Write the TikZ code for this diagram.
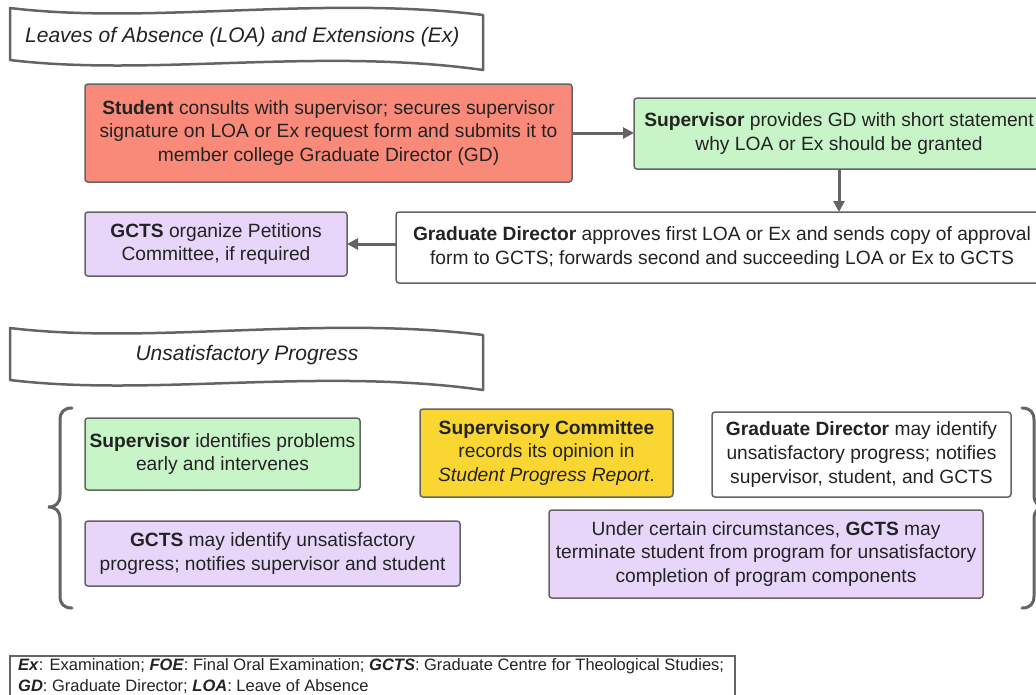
\documentclass[tikz,border=0pt]{standalone}
\usepackage{fontspec}
\setmainfont{Liberation Sans}
\usetikzlibrary{arrows.meta}
\definecolor{cred}{RGB}{249,138,122}
\definecolor{cgreen}{RGB}{200,245,200}
\definecolor{cpurple}{RGB}{232,214,250}
\definecolor{cyellow}{RGB}{250,214,50}
\definecolor{cborder}{RGB}{100,100,100}
\definecolor{carrow}{RGB}{100,100,100}
\definecolor{ctext}{RGB}{35,35,35}
\begin{document}
\begin{tikzpicture}[x=1pt,y=-1pt,
  box/.style={draw=cborder, line width=1.5pt, rounded corners=3pt, inner sep=0pt, outer sep=0pt,
    align=center, anchor=north west, text=ctext, font=\fontsize{19.2}{23.6}\selectfont},
  arr/.style={draw=carrow, line width=3pt, -{Triangle[length=11pt,width=11pt]}},
  banner/.style={draw=cborder, line width=2.5pt, fill=white, line join=round},
  bracestyle/.style={draw=cborder, line width=3pt, line cap=round},
  bannertext/.style={text=ctext, font=\fontsize{21}{25}\selectfont\itshape, inner sep=0pt}
]
\useasboundingbox (0,0) rectangle (1036,694);

% Banner 1
\draw[banner] (10,8) .. controls (150,25) and (320,-5) .. (483,15) -- (483,70)
   .. controls (320,47) and (150,77) .. (10,60) -- cycle;
\node[bannertext, anchor=west] (b1) at (25,37) {Leaves of Absence (LOA) and Extensions (Ex)};

% Top section boxes
\node[box, fill=cred, minimum width=487pt, minimum height=98pt] (stu) at (85,84)
  {\textbf{Student} consults with supervisor; secures supervisor\\signature on LOA or Ex request form and submits it to\\member college Graduate Director (GD)};
\node[box, fill=cgreen, minimum width=410pt, minimum height=71pt] (sup) at (634,98)
  {\textbf{Supervisor} provides GD with short statement\\why LOA or Ex should be granted};
\node[box, fill=white, minimum width=652pt, minimum height=71pt] (gd) at (396,212)
  {\textbf{Graduate Director} approves first LOA or Ex and sends copy of approval\\form to GCTS; forwards second and succeeding LOA or Ex to GCTS};
\node[box, fill=cpurple, minimum width=262pt, minimum height=64pt] (gcts) at (85,212)
  {\textbf{GCTS} organize Petitions\\Committee, if required};

\draw[arr] (stu.east) -- (stu.east -| sup.west);
\draw[arr] (sup.south) -- (sup.south |- gd.north);
\draw[arr] (gd.west |- gcts.east) -- (gcts.east);

% Banner 2
\draw[banner] (10,328) .. controls (150,345) and (320,315) .. (483,335) -- (483,390)
   .. controls (320,367) and (150,397) .. (10,380) -- cycle;
\node[bannertext] (b2) at (247,355) {Unsatisfactory Progress};

% Braces
\draw[bracestyle] (72,408) .. controls (64,408) and (60,412) .. (60,420) -- (60,495)
   .. controls (60,503) and (56,507) .. (48,507) .. controls (56,507) and (60,511) .. (60,519)
   -- (60,596) .. controls (60,604) and (64,608) .. (72,608);
\draw[bracestyle] (1022,408) .. controls (1030,408) and (1034,412) .. (1034,420) -- (1034,495)
   .. controls (1034,503) and (1038,507) .. (1046,507) .. controls (1038,507) and (1034,511) .. (1034,519)
   -- (1034,596) .. controls (1034,604) and (1030,608) .. (1022,608);

% Bottom section boxes
\node[box, fill=cgreen, minimum width=275pt, minimum height=72pt] (supid) at (85,418)
  {\textbf{Supervisor} identifies problems\\early and intervenes};
\node[box, fill=cyellow, minimum width=253pt, minimum height=88pt] (supcom) at (420,409)
  {\textbf{Supervisory Committee}\\records its opinion in\\\textit{Student Progress Report}.};
\node[box, fill=white, minimum width=299pt, minimum height=85pt] (gdid) at (712,412)
  {\textbf{Graduate Director} may identify\\unsatisfactory progress; notifies\\supervisor, student, and GCTS};
\node[box, fill=cpurple, minimum width=375pt, minimum height=65pt] (gctsid) at (85,521)
  {\textbf{GCTS} may identify unsatisfactory\\progress; notifies supervisor and student};
\node[box, fill=cpurple, minimum width=434pt, minimum height=88pt] (term) at (549,510)
  {Under certain circumstances, \textbf{GCTS} may\\terminate student from program for unsatisfactory\\completion of program components};

% Legend
\node[draw=cborder, line width=1.5pt, anchor=north west, minimum width=725pt, minimum height=46pt,
  inner sep=0pt, outer sep=0pt] (legbox) at (10,656) {};
\node[anchor=north west, align=left, text=ctext, inner sep=0pt,
  font=\fontsize{16.5}{21}\selectfont] (leg) at (18,658)
  {\textbf{\textit{Ex}}: Examination; \textbf{\textit{FOE}}: Final Oral Examination; \textbf{\textit{GCTS}}: Graduate Centre for Theological Studies;\\
   \textbf{\textit{GD}}: Graduate Director; \textbf{\textit{LOA}}: Leave of Absence};
\end{tikzpicture}
\end{document}
